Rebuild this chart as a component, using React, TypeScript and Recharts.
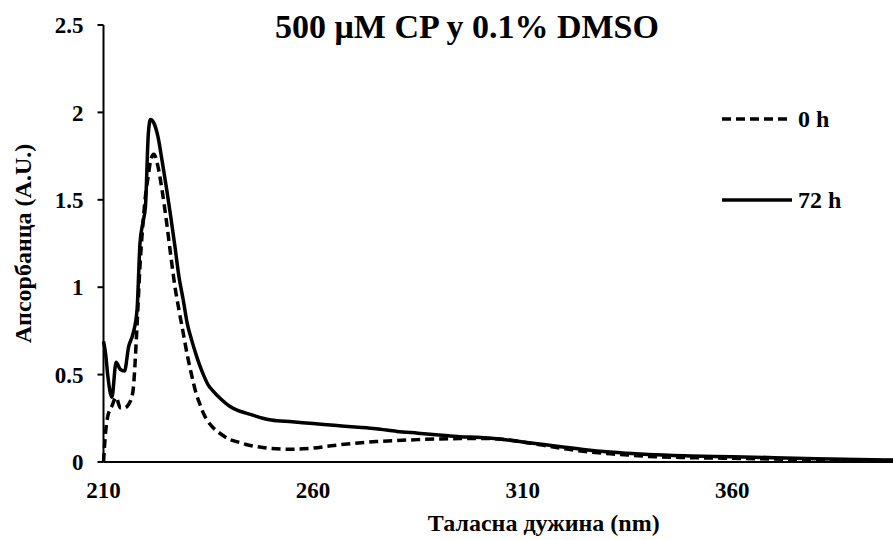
import React from "react";
import { LineChart, Line, XAxis, YAxis } from "recharts";

// wavelength (nm) and absorbance
const wavelengths = [
  210, 210.5, 211, 212, 213, 214, 215, 216, 217, 218, 218.7, 219.4, 220, 220.7, 221.2, 222, 223, 224, 225, 226,
  227, 228, 229, 230, 231, 232, 233, 234, 235, 236, 238, 240, 242, 244, 246, 248, 250, 255, 260, 265, 270, 275,
  280, 285, 290, 295, 300, 305, 310, 315, 320, 325, 330, 335, 340, 350, 360, 370, 380, 390, 400,
];
const abs0h = [
  0, 0.17, 0.26, 0.32, 0.37, 0.31, 0.31, 0.33, 0.4, 0.78, 1.12, 1.36, 1.52, 1.64, 1.72, 1.76, 1.69, 1.55, 1.38, 1.19,
  1.01, 0.87, 0.74, 0.61, 0.5, 0.4, 0.33, 0.27, 0.23, 0.2, 0.16, 0.13, 0.115, 0.1, 0.09, 0.083, 0.078, 0.073, 0.08,
  0.095, 0.107, 0.117, 0.123, 0.128, 0.132, 0.134, 0.135, 0.13, 0.115, 0.095, 0.075, 0.06, 0.048, 0.04, 0.032, 0.025,
  0.021, 0.017, 0.013, 0.01, 0.008,
];
const abs72h = [
  0.69, 0.62, 0.5, 0.37, 0.57, 0.53, 0.52, 0.66, 0.73, 0.87, 1.25, 1.37, 1.46, 1.88, 1.96, 1.94, 1.86, 1.72, 1.57,
  1.41, 1.24, 1.06, 0.93, 0.79, 0.7, 0.62, 0.55, 0.49, 0.44, 0.41, 0.36, 0.32, 0.295, 0.28, 0.265, 0.25, 0.24, 0.23,
  0.22, 0.21, 0.2, 0.19, 0.175, 0.165, 0.155, 0.145, 0.14, 0.13, 0.115, 0.1, 0.085, 0.07, 0.058, 0.05, 0.043, 0.035,
  0.03, 0.025, 0.019, 0.014, 0.011,
];
const xTicks = [210, 260, 310, 360];
const yTicks = [0, 0.5, 1, 1.5, 2, 2.5];

const data = wavelengths.map((nm, i) => ({ nm, h0: abs0h[i], h72: abs72h[i] }));

const font = "'Liberation Serif', 'Times New Roman', serif";
const tickStyle = { fontFamily: font, fontWeight: 700, fontSize: 23, fill: "#000" };

export default function App() {
  return (
    <div style={{ position: "absolute", left: 0, top: 0, width: 893, height: 540, overflow: "hidden", background: "#fff" }}>
      <LineChart width={900} height={540} data={data} margin={{ top: 25, right: 0, left: 0, bottom: 0 }}>
        <XAxis
          dataKey="nm"
          type="number"
          domain={[210, 400]}
          ticks={xTicks}
          tickLine={false}
          tickSize={0}
          tickMargin={20}
          height={78}
          axisLine={{ stroke: "#000", strokeWidth: 2 }}
          tick={tickStyle}
          label={{
            value: "Таласна дужина (nm)",
            position: "insideBottom",
            offset: 9,
            dx: 42,
            style: { fontFamily: font, fontWeight: 700, fontSize: 24, fill: "#000" },
          }}
        />
        <YAxis
          type="number"
          domain={[0, 2.5]}
          ticks={yTicks}
          width={103.5}
          tickSize={6}
          tickMargin={14}
          axisLine={{ stroke: "#000", strokeWidth: 2 }}
          tickLine={{ stroke: "#000", strokeWidth: 2 }}
          tick={tickStyle}
          label={{
            value: "Апсорбанца (A.U.)",
            angle: -90,
            position: "insideLeft",
            offset: 22,
            style: { textAnchor: "middle", fontFamily: font, fontWeight: 700, fontSize: 24, fill: "#000" },
          }}
        />
        <Line
          dataKey="h0"
          type="monotone"
          stroke="#000"
          strokeWidth={3.5}
          strokeDasharray="9 5"
          dot={false}
          isAnimationActive={false}
        />
        <Line dataKey="h72" type="monotone" stroke="#000" strokeWidth={3.5} dot={false} isAnimationActive={false} />
      </LineChart>
      <svg width={893} height={540} style={{ position: "absolute", left: 0, top: 0, pointerEvents: "none" }}>
        <text x={467} y={38} textAnchor="middle" fontFamily={font} fontWeight={700} fontSize={34} fill="#000">
          500 μM CP у 0.1% DMSO
        </text>
        <line x1={722} x2={792} y1={119} y2={119} stroke="#000" strokeWidth={3.5} strokeDasharray="9 5" />
        <text x={798} y={127} fontFamily={font} fontWeight={700} fontSize={24} fill="#000">
          0 h
        </text>
        <line x1={722} x2={792} y1={200} y2={200} stroke="#000" strokeWidth={3.5} />
        <text x={798} y={208} fontFamily={font} fontWeight={700} fontSize={24} fill="#000">
          72 h
        </text>
      </svg>
    </div>
  );
}
